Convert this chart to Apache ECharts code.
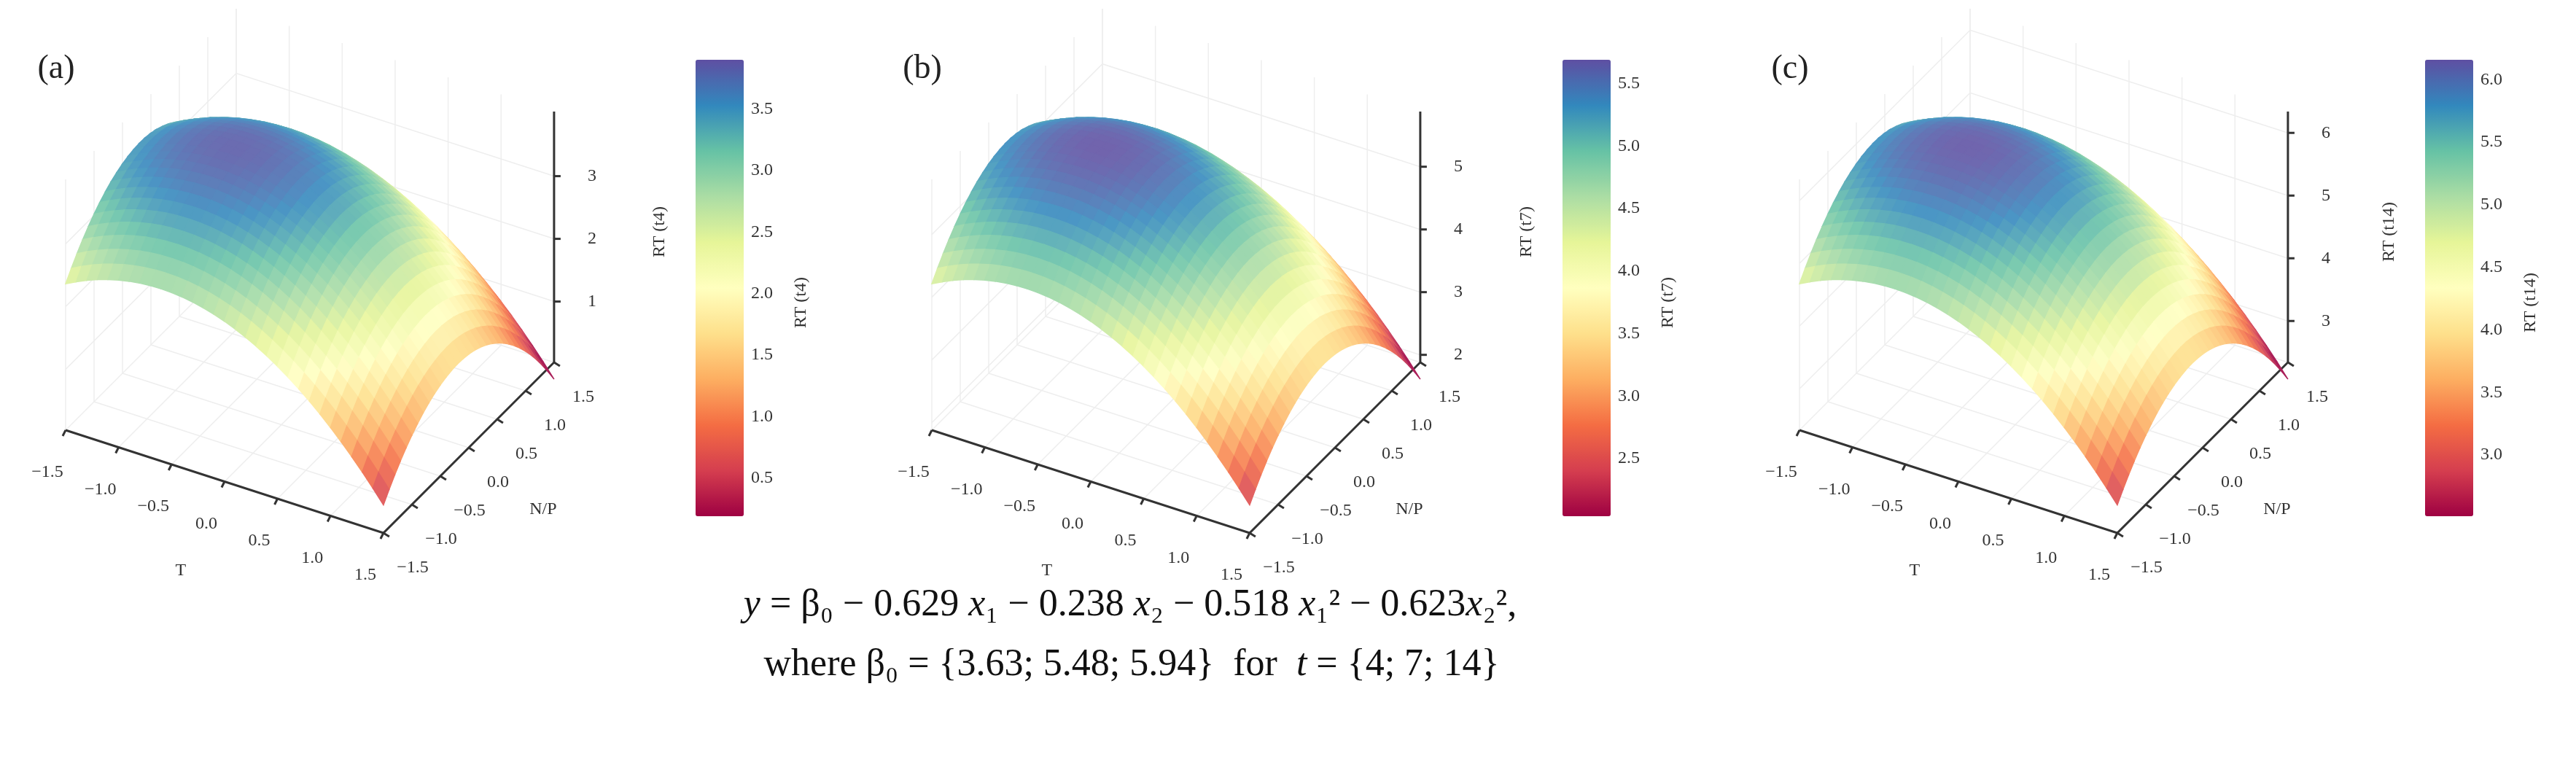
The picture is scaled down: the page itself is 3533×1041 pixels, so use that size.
<!DOCTYPE html>
<html><head><meta charset="utf-8">
<script src="https://cdn.jsdelivr.net/npm/echarts@6/dist/echarts.min.js"></script>
<style>html,body{margin:0;padding:0;background:#fff}#c{width:3533px;height:1041px}</style>
</head><body><div id="c"></div>
<script>
// ---- data ----
const PANEL_LABELS = ['(a)', '(b)', '(c)'];
const Z_NAMES = ['RT (t4)', 'RT (t7)', 'RT (t14)'];
const BETA0 = [3.63, 5.48, 5.94];
const COEF_X1 = -0.629, COEF_X2 = -0.238, COEF_X1SQ = -0.518, COEF_X2SQ = -0.623;
const GRID_VALUES = [-1.5,-1.4,-1.3,-1.2,-1.1,-1.0,-0.9,-0.8,-0.7,-0.6,-0.5,-0.4,-0.3,-0.2,-0.1,0,0.1,0.2,0.3,0.4,0.5,0.6,0.7,0.8,0.9,1.0,1.1,1.2,1.3,1.4,1.5];
const XY_TICKS = [-1.5, -1.0, -0.5, 0.0, 0.5, 1.0, 1.5];
const Z_TICKS = [[1, 2, 3], [2, 3, 4, 5], [3, 4, 5, 6]];
const CB_RANGE = [[0.19, 3.9], [2.04, 5.69], [2.51, 6.16]];
const CB_TICKS = [[0.5,1.0,1.5,2.0,2.5,3.0,3.5],[2.5,3.0,3.5,4.0,4.5,5.0,5.5],[3.0,3.5,4.0,4.5,5.0,5.5,6.0]];
const SPECTRAL = ['#9e0142','#d53e4f','#f46d43','#fdae61','#fee08b','#ffffbf','#e6f598','#abdda4','#66c2a5','#3288bd','#5e4fa2'];

// ---- layout ----
const DX = [0, 1188, 2378];
const CB_LEFT = [954, 2143, 3326];
const CB_TOP = 82, CB_H = 626, CB_W = 66;
const ORIGIN = [90, 590], ET = [145.3, 47], EN = [78, -78], KZ = 86, ZSPAN = 4.0;
const FONT = 'Liberation Serif';

function model(p, t, n) {
  return BETA0[p] + COEF_X1 * t + COEF_X2 * n + COEF_X1SQ * t * t + COEF_X2SQ * n * n;
}
function z0(p) { return BETA0[p] - 3.60; }
function proj(p, t, n, z) {
  const x = DX[p] + ORIGIN[0] + (t + 1.5) * ET[0] + (n + 1.5) * EN[0];
  const yf = ORIGIN[1] + (t + 1.5) * ET[1] + (n + 1.5) * EN[1];
  return [x, yf - (z - z0(p)) * KZ];
}
function wash(col, f) {
  const c = echarts.color.parse(col);
  if (!c) return col;
  const m = k => Math.round(c[k] + (255 - c[k]) * f);
  return 'rgb(' + m(0) + ',' + m(1) + ',' + m(2) + ')';
}

const series = [], visualMap = [], grids = [], xAxes = [], yAxes = [], graphics = [];
const cells = [];
for (let p = 0; p < 3; p++) {
  const list = [];
  for (let i = 0; i < GRID_VALUES.length - 1; i++) {
    for (let j = 0; j < GRID_VALUES.length - 1; j++) {
      const t0 = GRID_VALUES[i], t1 = GRID_VALUES[i + 1], n0 = GRID_VALUES[j], n1 = GRID_VALUES[j + 1];
      const tc = (t0 + t1) / 2, nc = (n0 + n1) / 2;
      let v = model(p, tc, nc);
      v = Math.min(CB_RANGE[p][1], Math.max(CB_RANGE[p][0], v));
      list.push({ t0, t1, n0, n1, v, depth: tc - nc });
    }
  }
  list.sort((a, b) => a.depth - b.depth);
  cells.push(list);
}

for (let p = 0; p < 3; p++) {
  const zTop = z0(p) + ZSPAN;
  const faint = { stroke: '#eeeeee', lineWidth: 1.5 };
  XY_TICKS.forEach(v => {
    let a = proj(p, v, 1.5, z0(p)), b = proj(p, v, 1.5, zTop);
    graphics.push({ type: 'line', shape: { x1: a[0], y1: a[1], x2: b[0], y2: b[1] }, style: faint, z: 1 });
    a = proj(p, -1.5, v, z0(p)); b = proj(p, -1.5, v, zTop);
    graphics.push({ type: 'line', shape: { x1: a[0], y1: a[1], x2: b[0], y2: b[1] }, style: faint, z: 1 });
    a = proj(p, v, -1.5, z0(p)); b = proj(p, v, 1.5, z0(p));
    graphics.push({ type: 'line', shape: { x1: a[0], y1: a[1], x2: b[0], y2: b[1] }, style: faint, z: 1 });
    a = proj(p, -1.5, v, z0(p)); b = proj(p, 1.5, v, z0(p));
    graphics.push({ type: 'line', shape: { x1: a[0], y1: a[1], x2: b[0], y2: b[1] }, style: faint, z: 1 });
  });
  Z_TICKS[p].forEach(v => {
    let a = proj(p, -1.5, -1.5, v), b = proj(p, -1.5, 1.5, v), c = proj(p, 1.5, 1.5, v);
    graphics.push({ type: 'polyline', shape: { points: [a, b, c] }, style: { stroke: '#eeeeee', lineWidth: 1.5, fill: null }, z: 1 });
  });
  const axStyle = { stroke: '#333', lineWidth: 3 };
  let A = proj(p, -1.5, -1.5, z0(p)), B = proj(p, 1.5, -1.5, z0(p)), C = proj(p, 1.5, 1.5, z0(p)), D = proj(p, 1.5, 1.5, zTop);
  graphics.push({ type: 'polyline', shape: { points: [A, B, C, D] }, style: Object.assign({ fill: null }, axStyle), z: 2 });
  const tickTxt = { fill: '#333', font: '24px ' + FONT, align: 'center', verticalAlign: 'middle' };
  XY_TICKS.forEach(v => {
    let a = proj(p, v, -1.5, z0(p));
    graphics.push({ type: 'line', shape: { x1: a[0], y1: a[1], x2: a[0] - 4, y2: a[1] + 8 }, style: axStyle, z: 2 });
    graphics.push({ type: 'text', x: a[0] - 25, y: a[1] + 58, style: Object.assign({ text: v.toFixed(1).replace('-', '−') }, tickTxt), z: 3 });
    a = proj(p, 1.5, v, z0(p));
    graphics.push({ type: 'line', shape: { x1: a[0], y1: a[1], x2: a[0] + 8, y2: a[1] + 5 }, style: axStyle, z: 2 });
    graphics.push({ type: 'text', x: a[0] + 40, y: a[1] + 48, style: Object.assign({ text: v.toFixed(1).replace('-', '−') }, tickTxt), z: 3 });
  });
  Z_TICKS[p].forEach(v => {
    const a = proj(p, 1.5, 1.5, v);
    graphics.push({ type: 'line', shape: { x1: a[0], y1: a[1], x2: a[0] + 9, y2: a[1] }, style: axStyle, z: 2 });
    graphics.push({ type: 'text', x: a[0] + 52, y: a[1], style: Object.assign({ text: String(v) }, tickTxt), z: 3 });
  });
  const tm = proj(p, 0, -1.5, z0(p)), nm = proj(p, 1.5, 0, z0(p));
  graphics.push({ type: 'text', x: tm[0] - 60, y: tm[1] + 122, style: Object.assign({ text: 'T' }, tickTxt), z: 3 });
  graphics.push({ type: 'text', x: nm[0] + 102, y: nm[1] + 85, style: Object.assign({ text: 'N/P' }, tickTxt), z: 3 });
  graphics.push({ type: 'text', x: DX[p] + 77, y: 95, style: { text: PANEL_LABELS[p], fill: '#222', font: '46px ' + FONT, align: 'center', verticalAlign: 'middle' }, z: 3 });
  const zl = { fill: '#333', font: '24px ' + FONT, align: 'center', verticalAlign: 'middle' };
  graphics.push({ type: 'text', x: CB_LEFT[p] - 49, y: 318, rotation: Math.PI / 2, style: Object.assign({ text: Z_NAMES[p] }, zl), z: 3 });
  graphics.push({ type: 'text', x: CB_LEFT[p] + 145, y: 415, rotation: Math.PI / 2, style: Object.assign({ text: Z_NAMES[p] }, zl), z: 3 });

  series.push({
    type: 'custom', coordinateSystem: 'none', silent: true, z: 5,
    data: cells[p].map((c, k) => [k, c.depth, c.v]),
    dimensions: ['k', 'depth', 'v'],
    renderItem: (params, api) => {
      const c = cells[p][params.dataIndex];
      const pts = [
        proj(p, c.t0, c.n0, model(p, c.t0, c.n0)),
        proj(p, c.t1, c.n0, model(p, c.t1, c.n0)),
        proj(p, c.t1, c.n1, model(p, c.t1, c.n1)),
        proj(p, c.t0, c.n1, model(p, c.t0, c.n1))
      ];
      const col = wash(api.visual('color'), 0.12);
      return { type: 'polygon', shape: { points: pts }, style: { fill: col, stroke: col, lineWidth: 1.5 } };
    }
  });
  visualMap.push({
    type: 'continuous', seriesIndex: p * 2, dimension: 2,
    min: CB_RANGE[p][0], max: CB_RANGE[p][1], calculable: false, hoverLink: false,
    left: CB_LEFT[p], top: CB_TOP, itemWidth: CB_W, itemHeight: CB_H, padding: 0,
    inRange: { color: SPECTRAL }, text: null, show: true
  });
  grids.push({ left: CB_LEFT[p], top: CB_TOP, width: CB_W, height: CB_H });
  xAxes.push({ gridIndex: p, type: 'value', show: false, min: 0, max: 1 });
  yAxes.push({
    gridIndex: p, type: 'value', position: 'right', min: CB_RANGE[p][0], max: CB_RANGE[p][1],
    axisLine: { show: false }, splitLine: { show: false },
    axisTick: { show: true, length: 6, lineStyle: { color: '#333', width: 2 }, customValues: CB_TICKS[p] },
    axisLabel: { customValues: CB_TICKS[p], color: '#333', fontFamily: FONT, fontSize: 24, margin: 10, formatter: v => v.toFixed(1) }
  });
  series.push({ type: 'line', xAxisIndex: p, yAxisIndex: p, data: [], silent: true });
}

const chart = echarts.init(document.getElementById('c'));
chart.setOption({
  backgroundColor: '#fff', animation: false,
  grid: grids, xAxis: xAxes, yAxis: yAxes, visualMap, series,
  graphic: graphics.concat([
    { type: 'text', x: 1550, y: 830, style: { text: '{i|y} = β₀ − 0.629 {i|x}₁ − 0.238 {i|x}₂ − 0.518 {i|x}₁² − 0.623{i|x}₂²,', font: '52px Liberation Serif', fill: '#111', align: 'center', verticalAlign: 'middle', rich: { i: { fontStyle: 'italic', fontSize: 52, fontFamily: FONT } } } },
    { type: 'text', x: 1552, y: 912, style: { text: 'where β₀ = {3.63; 5.48; 5.94}  for  {i|t} = {4; 7; 14}', font: '52px Liberation Serif', fill: '#111', align: 'center', verticalAlign: 'middle', rich: { i: { fontStyle: 'italic', fontSize: 52, fontFamily: FONT } } } }
  ])
});
</script></body></html>
